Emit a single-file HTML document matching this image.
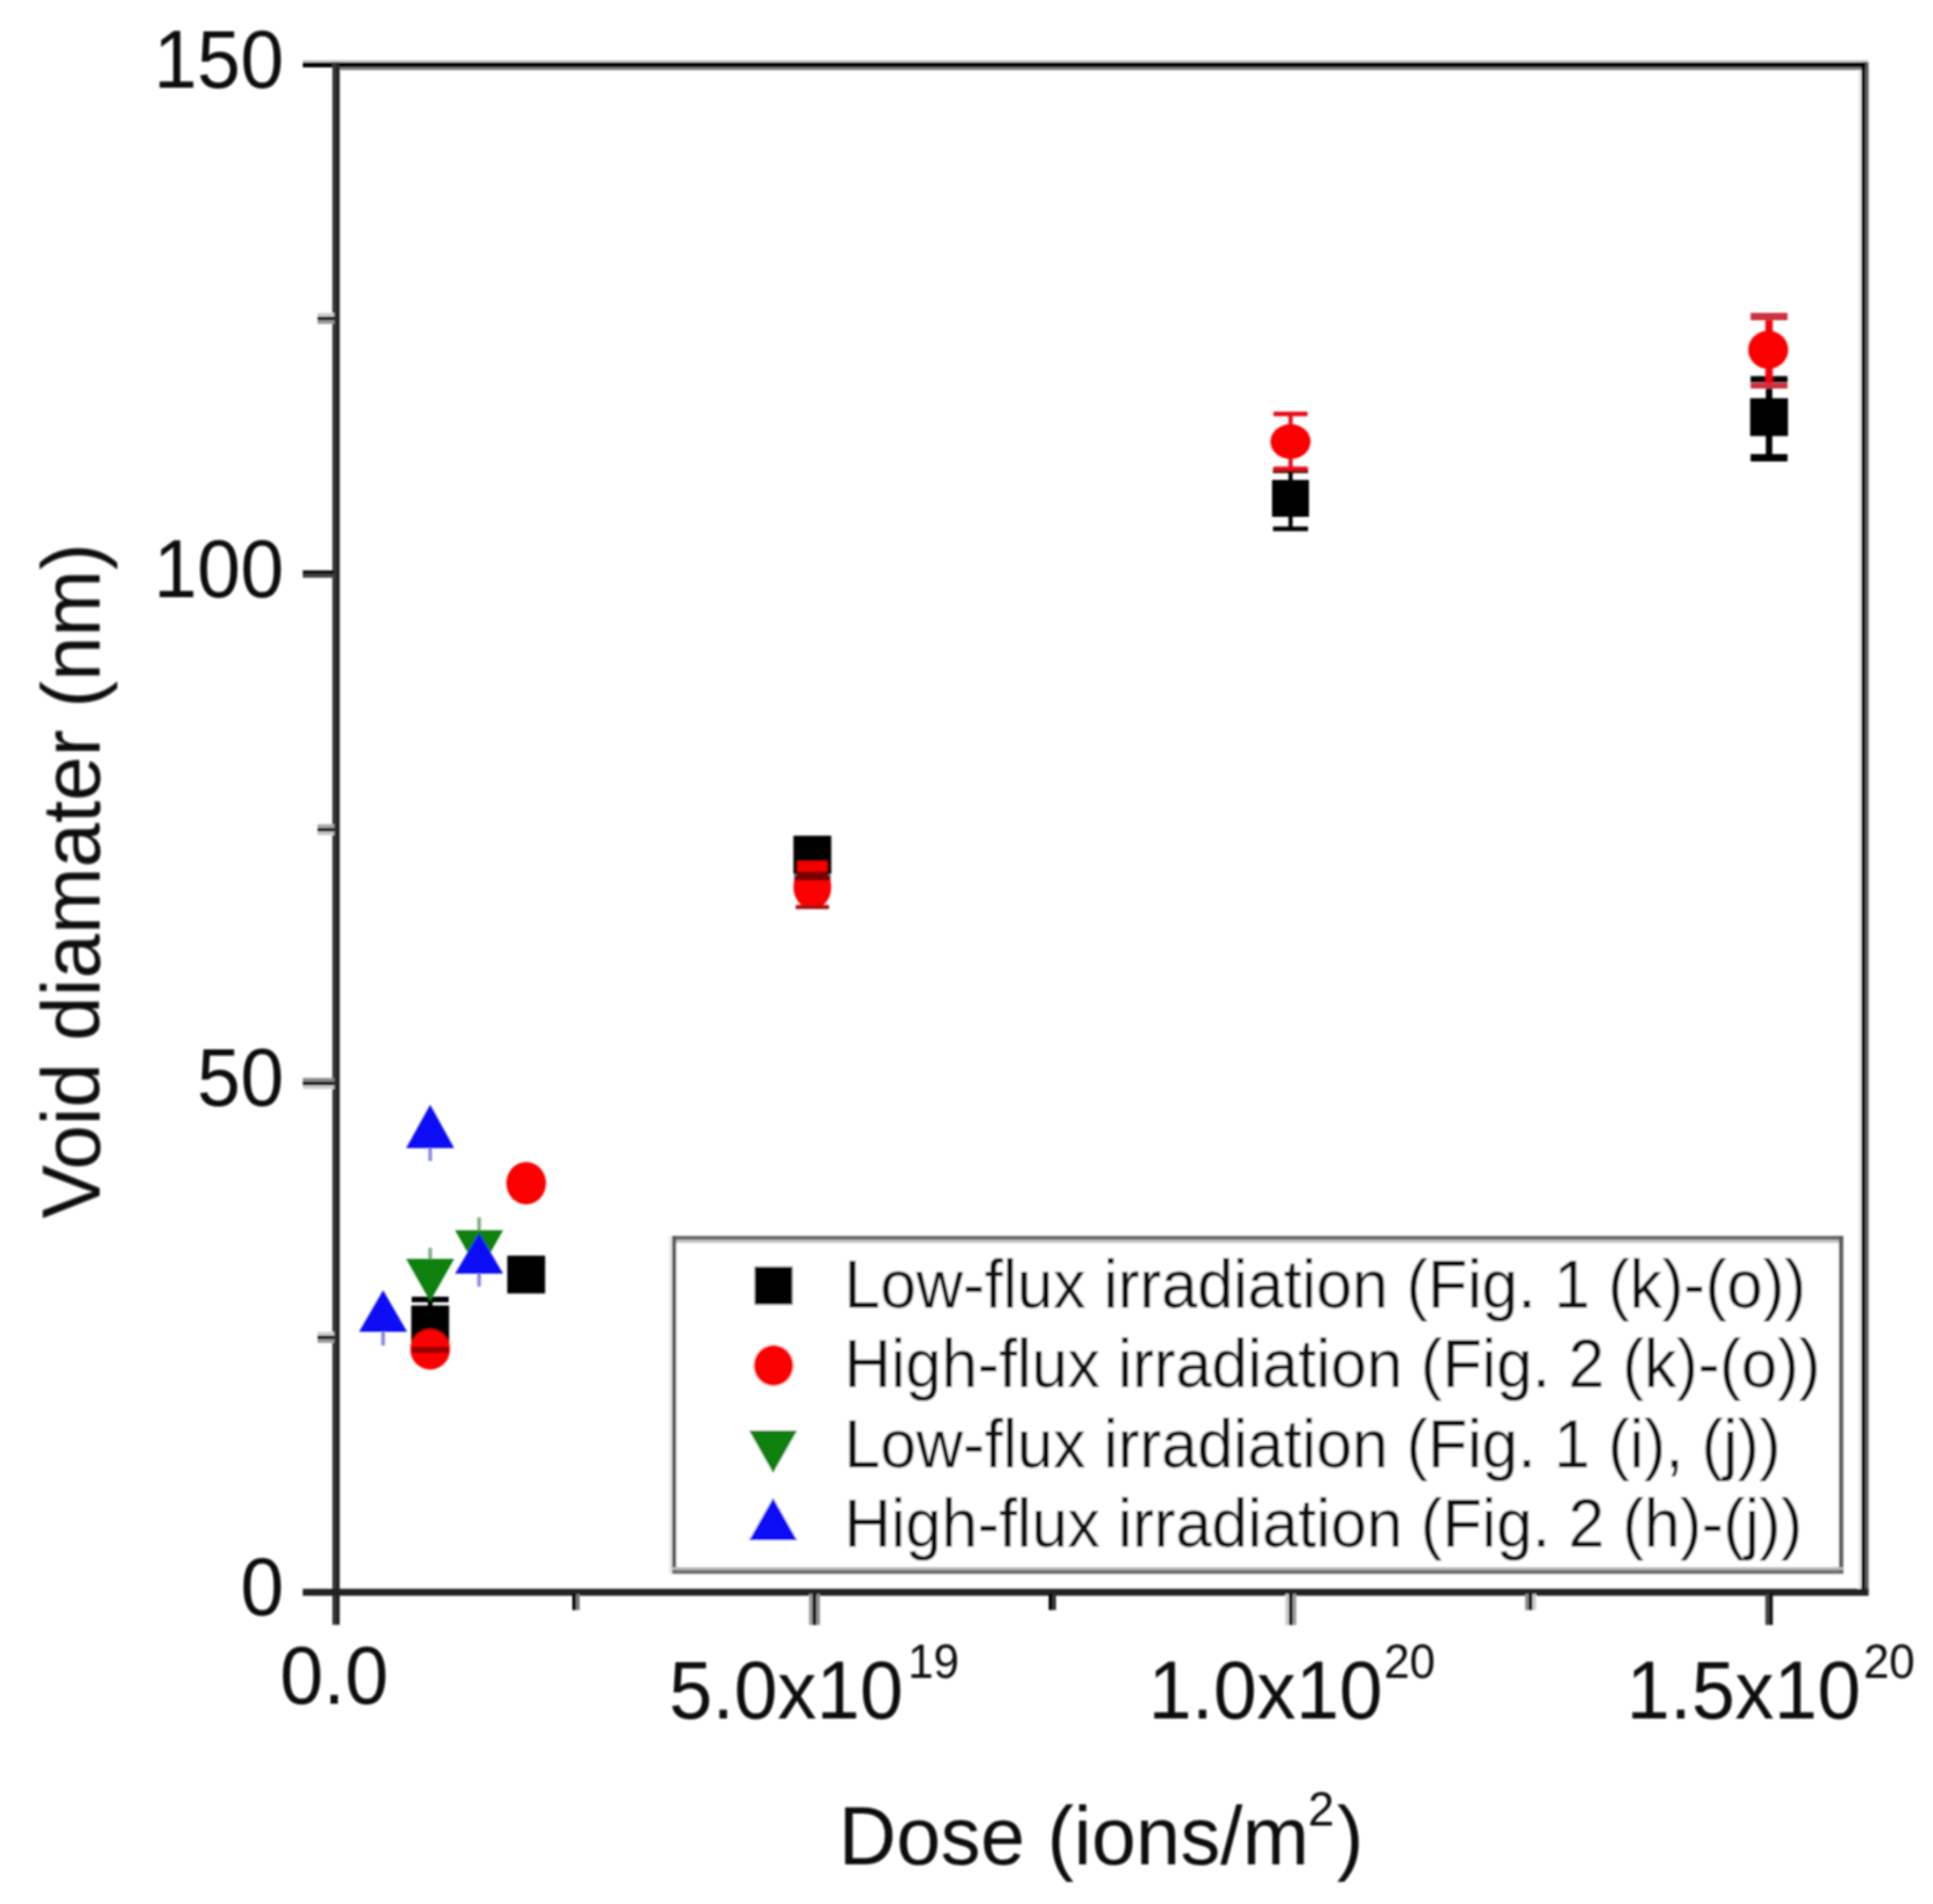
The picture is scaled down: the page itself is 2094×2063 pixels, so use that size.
<!DOCTYPE html>
<html lang="en"><head><meta charset="utf-8"><title>Void diameter vs dose</title>
<style>html,body{margin:0;padding:0;background:#fff;}body{width:2094px;height:2063px;overflow:hidden;}svg{display:block;}text{font-family:"Liberation Sans",sans-serif;fill:#0c0c0c;}</style></head><body>
<svg width="2094" height="2063" viewBox="0 0 2094 2063">
<defs><filter id="soft" x="0" y="0" width="2094" height="2063" filterUnits="userSpaceOnUse"><feGaussianBlur stdDeviation="1.20"/></filter></defs>
<rect width="2094" height="2063" fill="#fff"/>
<g id="chart" filter="url(#soft)">
<g id="data">
<rect x="445.5" y="1414.5" width="41.0" height="41.0" fill="#000"/>
<rect x="549.5" y="1360.5" width="41.0" height="41.0" fill="#000"/>
<rect x="859.5" y="905.5" width="41.0" height="41.0" fill="#000"/>
<rect x="1378.0" y="520.0" width="40.0" height="40.0" fill="#000"/>
<rect x="1895.9" y="431.5" width="41.0" height="41.0" fill="#000"/>
<ellipse cx="466.0" cy="1462.0" rx="21.5" ry="22.0" fill="#fb0000"/>
<ellipse cx="570.0" cy="1282.0" rx="21.5" ry="23.0" fill="#fb0000"/>
<ellipse cx="880.0" cy="961.0" rx="20.5" ry="24.0" fill="#fb0000"/>
<ellipse cx="1398.0" cy="478.5" rx="21.5" ry="18.8" fill="#fb0000"/>
<ellipse cx="1915.5" cy="379.0" rx="21.5" ry="20.5" fill="#fb0000"/>
<rect x="446.0" y="1405.0" width="40.0" height="6.0" fill="#000"/><rect x="463.5" y="1408.0" width="5.0" height="8.0" fill="#000"/>
<rect x="446" y="1459.5" width="40" height="6.5" fill="#000" fill-opacity="0.4"/>
<rect x="860" y="944.5" width="40" height="9.5" fill="#000" fill-opacity="0.52"/>
<rect x="1395.8" y="510.0" width="4.5" height="63.0" fill="#000"/><rect x="1379.0" y="507.5" width="38.0" height="5.0" fill="#000"/><rect x="1379.0" y="570.5" width="38.0" height="5.0" fill="#000"/>
<rect x="1912.9" y="411.0" width="7.0" height="85.0" fill="#000"/><rect x="1896.4" y="407.5" width="40.0" height="7.0" fill="#000"/><rect x="1896.4" y="492.0" width="40.0" height="8.0" fill="#000"/>
<rect x="863.5" y="933.0" width="33.0" height="11.0" fill="#f20000"/><rect x="862.0" y="980.5" width="36.0" height="4.5" fill="#b01010"/>
<rect x="1395.8" y="448.5" width="4.5" height="59.5" fill="#e8101c"/><rect x="1379.5" y="446.0" width="37.0" height="5.0" fill="#e8101c"/><rect x="1379.5" y="505.5" width="37.0" height="5.0" fill="#e8101c"/>
<ellipse cx="1398.0" cy="478.5" rx="21.5" ry="18.8" fill="#fb0000"/>
<rect x="1912.4" y="343.0" width="8.0" height="75.0" fill="#f40010"/><rect x="1896.4" y="339.0" width="40.0" height="8.0" fill="#cc3040"/><rect x="1896.4" y="415.0" width="40.0" height="6.0" fill="#cc3040"/>
<ellipse cx="1915.5" cy="379.0" rx="21.5" ry="20.5" fill="#fb0000"/>
<rect x="464.0" y="1352.0" width="4.0" height="14.0" fill="#7fb07f"/>
<polygon points="440.0,1364.0 492.0,1364.0 466.0,1410.0" fill="#0c800c"/>
<rect x="517.0" y="1319.0" width="4.0" height="16.0" fill="#7fb07f"/>
<polygon points="493.0,1333.0 545.0,1333.0 519.0,1379.0" fill="#0c800c"/>
<rect x="464.0" y="1240.0" width="4.0" height="18.0" fill="#8a8ae6"/>
<polygon points="466.0,1197.0 492.0,1244.0 440.0,1244.0" fill="#0a0af5"/>
<rect x="517.0" y="1375.0" width="4.0" height="19.0" fill="#8a8ae6"/>
<polygon points="519.0,1336.0 545.0,1380.0 493.0,1380.0" fill="#0a0af5"/>
<rect x="413.0" y="1440.0" width="4.0" height="18.0" fill="#8a8ae6"/>
<polygon points="415.0,1398.0 441.0,1443.0 389.0,1443.0" fill="#0a0af5"/>
</g>
<g id="legend">
<rect x="724.0" y="1339.0" width="1272.5" height="366.0" fill="#fff"/>
<rect x="724.5" y="1339.5" width="4.0" height="365.5" fill="#ececec"/>
<rect x="728.2" y="1343.0" width="1268.0" height="3.8" fill="#c6c6c6"/>
<rect x="728.2" y="1339.2" width="1268.3" height="4.0" fill="#606060"/>
<rect x="728.0" y="1339.2" width="4.5" height="365.8" fill="#565656"/>
<rect x="1992.0" y="1339.2" width="4.8" height="365.8" fill="#5c5c5c"/>
<rect x="728.2" y="1698.0" width="1268.3" height="3.5" fill="#b8b8b8"/>
<rect x="728.2" y="1701.3" width="1268.3" height="3.9" fill="#666"/>
<text transform="translate(914.5,1417.0) scale(1,1.065)" font-size="70.25" text-anchor="start">Low-flux irradiation (Fig. 1 (k)-(o))</text>
<text transform="translate(914.5,1503.0) scale(1,1.065)" font-size="70.25" text-anchor="start">High-flux irradiation (Fig. 2 (k)-(o))</text>
<text transform="translate(914.5,1589.5) scale(1,1.065)" font-size="70.25" text-anchor="start">Low-flux irradiation (Fig. 1 (i), (j))</text>
<text transform="translate(914.5,1676.0) scale(1,1.065)" font-size="70.25" text-anchor="start">High-flux irradiation (Fig. 2 (h)-(j))</text>
<rect x="817.5" y="1372.5" width="41.0" height="41.0" fill="#000"/>
<ellipse cx="838.0" cy="1479.5" rx="21.5" ry="22.3" fill="#fb0000"/>
<polygon points="811.5,1550.0 863.5,1550.0 837.5,1596.0" fill="#0c800c"/>
<polygon points="837.5,1623.0 863.5,1669.0 811.5,1669.0" fill="#0a0af5"/>
</g>
<g id="axes">
<rect x="328.0" y="65.0" width="1696.0" height="2.6" fill="#d0d0d0"/>
<rect x="328.0" y="67.5" width="1696.0" height="5.5" fill="#000"/>
<rect x="364.0" y="73.0" width="1660.0" height="3.0" fill="#808080"/>
<rect x="360.0" y="67.5" width="4.0" height="1693.0" fill="#383838"/>
<rect x="364.0" y="67.5" width="4.0" height="1693.0" fill="#202020"/>
<rect x="2012.5" y="76.0" width="4.0" height="1645.0" fill="#f0f0f0"/>
<rect x="2016.5" y="67.5" width="4.2" height="1661.5" fill="#000"/>
<rect x="2020.7" y="67.5" width="3.5" height="1661.5" fill="#5a5a5a"/>
<rect x="328.0" y="1721.5" width="1696.2" height="7.5" fill="#222"/>
<rect x="344.0" y="339.0" width="18.0" height="4.0" fill="#cfcfcf"/><rect x="344.0" y="343.0" width="18.0" height="4.0" fill="#000"/><rect x="344.0" y="347.0" width="18.0" height="4.0" fill="#9a9a9a"/>
<rect x="328.0" y="618.0" width="34.0" height="4.0" fill="#111"/><rect x="328.0" y="622.0" width="34.0" height="4.0" fill="#444"/>
<rect x="344.0" y="893.0" width="18.0" height="4.0" fill="#ababab"/><rect x="344.0" y="897.0" width="18.0" height="4.0" fill="#000"/><rect x="344.0" y="901.0" width="18.0" height="4.0" fill="#c8c8c8"/>
<rect x="328.0" y="1168.0" width="34.0" height="4.0" fill="#8a8a8a"/><rect x="328.0" y="1172.0" width="34.0" height="4.0" fill="#000"/><rect x="328.0" y="1176.0" width="34.0" height="4.0" fill="#cfcfcf"/>
<rect x="344.0" y="1443.0" width="18.0" height="4.0" fill="#d0d0d0"/><rect x="344.0" y="1447.0" width="18.0" height="4.0" fill="#000"/><rect x="344.0" y="1451.0" width="18.0" height="4.0" fill="#9a9a9a"/>
<rect x="620.0" y="1727.0" width="4.2" height="17.5" fill="#000"/><rect x="624.2" y="1727.0" width="3.8" height="17.5" fill="#777"/>
<rect x="876.4" y="1727.0" width="3.8" height="33.7" fill="#9a9a9a"/><rect x="880.2" y="1727.0" width="4.2" height="33.7" fill="#000"/><rect x="884.4" y="1727.0" width="3.8" height="33.7" fill="#8a8a8a"/>
<rect x="1136.0" y="1727.0" width="4.2" height="17.5" fill="#000"/><rect x="1140.2" y="1727.0" width="3.8" height="17.5" fill="#333"/>
<rect x="1392.5" y="1727.0" width="3.8" height="33.7" fill="#cccccc"/><rect x="1396.3" y="1727.0" width="4.2" height="33.7" fill="#000"/><rect x="1400.5" y="1727.0" width="3.8" height="33.7" fill="#999"/>
<rect x="1652.2" y="1727.0" width="3.8" height="17.5" fill="#8a8a8a"/><rect x="1656.0" y="1727.0" width="4.2" height="17.5" fill="#000"/><rect x="1660.2" y="1727.0" width="3.8" height="17.5" fill="#cccccc"/>
<rect x="1912.4" y="1727.0" width="3.8" height="33.7" fill="#444"/><rect x="1916.2" y="1727.0" width="4.2" height="33.7" fill="#111"/>
</g>
<g id="ticklabels">
<text transform="translate(307.5,94.7) scale(1,1.050)" font-size="84.50" text-anchor="end">150</text>
<text transform="translate(307.5,646.6) scale(1,1.050)" font-size="84.50" text-anchor="end">100</text>
<text transform="translate(307.5,1198.5) scale(1,1.050)" font-size="84.50" text-anchor="end">50</text>
<text transform="translate(307.5,1750.3) scale(1,1.050)" font-size="84.50" text-anchor="end">0</text>
<text transform="translate(362.0,1846.0) scale(1,1.050)" font-size="84.50" text-anchor="middle">0.0</text>
<text transform="translate(724.8,1862.0) scale(1,1.050)" font-size="84.50" text-anchor="start">5.0x10<tspan font-size="50" dx="5.0" dy="-42">19</tspan></text>
<text transform="translate(1244.0,1862.0) scale(1,1.050)" font-size="84.50" text-anchor="start">1.0x10<tspan font-size="50" dx="1.5" dy="-42">20</tspan></text>
<text transform="translate(1762.0,1862.0) scale(1,1.050)" font-size="84.50" text-anchor="start">1.5x10<tspan font-size="50" dx="3.0" dy="-42">20</tspan></text>
</g>
<g id="titles">
<text transform="translate(908.5,2020.0) scale(1,1.020)" font-size="86.50" text-anchor="start">Dose (ions/m<tspan font-size="51" dx="-1" dy="-41">2</tspan><tspan dx="3" dy="41">)</tspan></text>
<text transform="translate(107.5,954.5) rotate(-90) scale(1,1.020)" font-size="86.60" text-anchor="middle">Void diamater (nm)</text>
</g>
</g></svg></body></html>
